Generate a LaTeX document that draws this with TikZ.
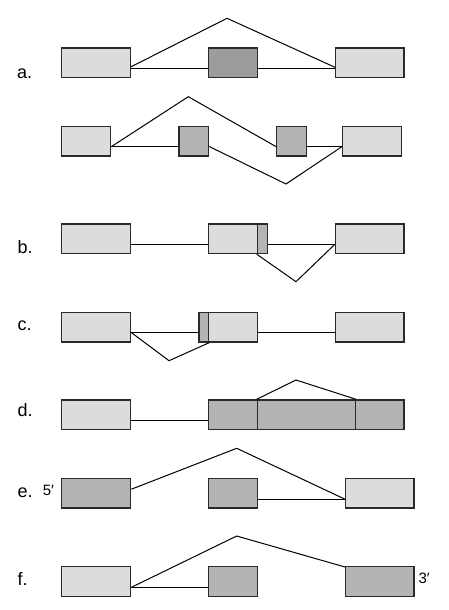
\documentclass[tikz,border=0pt]{standalone}
\usepackage{fontspec}
\setmainfont{Liberation Sans}
\definecolor{lightg}{HTML}{DCDCDC}
\definecolor{medg}{HTML}{B4B4B4}
\definecolor{darkg}{HTML}{9C9C9C}
\definecolor{edge}{HTML}{2A2A2A}
\begin{document}
\begin{tikzpicture}[x=1pt,y=-1pt,
  box/.style={draw=edge,line width=1.4pt,anchor=north west,inner sep=0pt,minimum height=29.5pt},
  lbox/.style={box,fill=lightg},
  mbox/.style={box,fill=medg},
  dbox/.style={box,fill=darkg},
  conn/.style={draw=black,line width=1pt,line join=miter},
  lab/.style={anchor=base west,inner sep=0pt,font=\fontsize{18}{20}\selectfont},
  end/.style={anchor=base west,inner sep=0pt,font=\fontsize{15}{17}\selectfont}]
\useasboundingbox (0,0) rectangle (448,610);
% ---- a (first) ----
\node[lab] (la) at (17,78.3) {a.};
\coordinate (a1p) at (227,18.3);
\draw[conn] (130,67.3) -- (a1p) -- (335,67.3);
\node[lbox,minimum width=69pt] (a1L) at (61,47.3) {};
\node[dbox,minimum width=49pt] (a1M) at (208,47.3) {};
\node[lbox,minimum width=68.3pt] (a1R) at (335,47.3) {};
\draw[conn] ([yshift=10pt]a1L.south east) -- ([yshift=10pt]a1M.south west);
\draw[conn] ([yshift=10pt]a1M.south east) -- ([yshift=10pt]a1R.south west);
% ---- a (second) ----
\coordinate (a2p) at (188.3,96.7);
\coordinate (a2v) at (286,184);
\node[lbox,minimum width=49pt] (a2L) at (61,125.7) {};
\node[mbox,minimum width=29.7pt] (a2A) at (178.3,125.7) {};
\node[mbox,minimum width=29.7pt] (a2B) at (276,125.7) {};
\node[lbox,minimum width=59pt] (a2R) at (342,125.7) {};
\draw[conn] ([yshift=10pt]a2L.south east) -- ([yshift=10pt]a2A.south west);
\draw[conn] ([yshift=10pt]a2B.south east) -- ([yshift=10pt]a2R.south west);
\draw[conn] ([yshift=10pt]a2L.south east) -- (a2p) -- ([yshift=10pt]a2B.south west);
\draw[conn] ([yshift=10pt]a2A.south east) -- (a2v) -- ([yshift=10pt]a2R.south west);
% ---- b ----
\node[lab] (lb) at (17.3,253.3) {b.};
\coordinate (bv) at (296,281.7);
\node[lbox,minimum width=69pt] (bL) at (61,223.3) {};
\node[lbox,minimum width=48.7pt] (bM) at (208,223.3) {};
\node[mbox,minimum width=10pt] (bS) at (256.7,223.3) {};
\node[lbox,minimum width=68.3pt] (bR) at (335,223.3) {};
\draw[conn] ([yshift=10pt]bL.south east) -- ([yshift=10pt]bM.south west);
\draw[conn] ([yshift=10pt]bS.south east) -- ([yshift=10pt]bR.south west);
\draw[conn] (bS.south west) -- (bv) -- ([yshift=10pt]bR.south west);
% ---- c ----
\node[lab] (lc) at (17.3,330) {c.};
\coordinate (cv) at (169,360.7);
\node[lbox,minimum width=69pt] (cL) at (61,311.7) {};
\node[lbox,minimum width=48.7pt] (cM) at (208,311.7) {};
\node[mbox,minimum width=9.7pt] (cS) at (198.3,311.7) {};
\node[lbox,minimum width=68.3pt] (cR) at (335,311.7) {};
\draw[conn] ([yshift=10pt]cL.south east) -- ([yshift=10pt]cS.south west);
\draw[conn] ([yshift=10pt]cM.south east) -- ([yshift=10pt]cR.south west);
\draw[conn] ([yshift=10pt]cL.south east) -- (cv) -- (cS.south east);
% ---- d ----
\node[lab] (ld) at (17.3,416.7) {d.};
\coordinate (dp) at (296,380);
\node[lbox,minimum width=69pt] (dL) at (61,399.3) {};
\node[mbox,minimum width=48.7pt] (dA) at (208,399.3) {};
\node[mbox,minimum width=98pt] (dB) at (256.7,399.3) {};
\node[mbox,minimum width=48.6pt] (dC) at (354.7,399.3) {};
\draw[conn] ([yshift=10pt]dL.south east) -- ([yshift=10pt]dA.south west);
\draw[conn] (dB.north west) -- (dp) -- (dB.north east);
% ---- e ----
\node[lab] (le) at (17.3,497.3) {e.};
\node[end] (e5) at (42.7,495) {5′};
\coordinate (ep) at (236.7,448.3);
\node[mbox,minimum width=69pt] (eL) at (61,477.7) {};
\node[mbox,minimum width=48.7pt] (eM) at (208,477.7) {};
\node[lbox,minimum width=68.3pt] (eR) at (345,477.7) {};
\draw[conn] ([yshift=19.4pt]eL.south east) -- (ep) -- ([yshift=9.4pt]eR.south west);
\draw[conn] ([yshift=9.4pt]eM.south east) -- ([yshift=9.4pt]eR.south west);
% ---- f ----
\node[lab] (lf) at (17.3,585) {f.};
\node[end] (f3) at (418.3,583.3) {3′};
\coordinate (fp) at (236.7,536);
\node[lbox,minimum width=69pt] (fL) at (61,566) {};
\node[mbox,minimum width=48.7pt] (fM) at (208,566) {};
\node[mbox,minimum width=68.3pt] (fR) at (345,566) {};
\draw[conn] ([yshift=9.6pt]fL.south east) -- ([yshift=9.6pt]fM.south west);
\draw[conn] ([yshift=9.6pt]fL.south east) -- (fp) -- ([yshift=-1pt]fR.north west);
\end{tikzpicture}
\end{document}
